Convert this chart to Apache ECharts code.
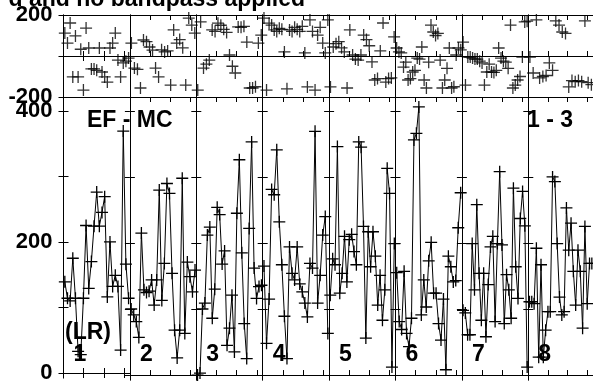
<!DOCTYPE html>
<html>
<head>
<meta charset="utf-8">
<script src="https://cdn.jsdelivr.net/npm/echarts@6/dist/echarts.min.js"></script>
<style>
  html, body { margin: 0; padding: 0; background: #fff; }
  #chart { width: 593px; height: 384px; }
</style>
</head>
<body>
<div id="chart"></div>
<script>
// bottom panel: one run per segment
const fit1 = [139, 114, 110, 175, 114, 33, 28, 114, 225, 129, 170, 224, 276, 224, 245, 269, 116, 200, 132, 149, 132, 35, 369, 166, 114];
const fit2 = [100, 91, 81, 57, 215, 129, 125, 127, 144, 106, 144, 280, 113, 169, 290, 275, 154, 68, 26, 68, 298, 63, 171, 149, 126, 159];
const fit3 = [0, 3, 100, 109, 212, 224, 86, 130, 254, 243, 168, 188, 45, 71, 121, 35, 245, 326, 185, 78, 25, 222, 353, 162, 116, 134, 136];
const fit4 = [165, 48, 115, 281, 273, 341, 232, 167, 89, 25, 194, 154, 144, 194, 138, 126, 109, 88, 169, 162, 369, 109, 151, 212, 240, 63];
const fit5 = [121, 176, 167, 346, 124, 154, 210, 141, 205, 213, 187, 167, 353, 345, 225, 56, 217, 164, 217, 180, 106, 151, 83, 129, 313, 275, 12, 199];
const fit6 = [155, 81, 69, 157, 63, 43, 86, 356, 366, 406, 91, 144, 103, 173, 201, 124, 124, 78, 53, 115, 8, 180, 164, 141, 143, 223, 276];
const fit7 = [98, 94, 61, 61, 199, 129, 258, 154, 83, 154, 58, 137, 194, 210, 81, 199, 308, 197, 78, 152, 129, 86, 283, 164, 116, 237, 278, 226, 12];
const fit8 = [111, 111, 108, 192, 27, 167, 27, 68, 96, 96, 300, 293, 199, 118, 91, 96, 253, 189, 230, 157, 106, 189, 157, 71, 225, 108, 169, 169];

// top panel residuals
const res1 = [112, 63, 161, -102, 98, -102, 33, -166, 136, 39, -63, -63, -70, 39, -78, -102, -127, 39, 63, 112, -20, -102, -34, -25, -10];
const res2 = [63, -59, -65, -156, 78, 70, 44, 29, -59, -102, 30, 20, 25, -142, 127, 63, 80, 40, -142, 185, 151, 112];
const res3 = [-166, 166, -59, -40, -20, 127, 120, 160, 150, 130, 115, 5, -50, -83, 142, 140, 145, 68, -156, -156, -150, 63, 102];
const res4 = [185, -166, 160, 151, 127, 120, 135, 130, 20, -160, 127, 120, 140, 130, 120, 145, 15, -151, 176, 120, -166, 102, 140, 63, 15, 176];
const res5 = [-151, 44, 60, 70, 40, 20, -156, 127, 5, -15, -20, 5, 102, 80, 50, -29, -117, -110, 25, 161, -127, -110, -107, 93];
const res6 = [39, 20, 15, -54, -30, -117, -110, -78, -70, -10, -15, 44, -117, -156, -30, 151, 117, 100, 110, -20, -156, -117, -60, 39, -156, -150, 5, 39, 30];
const res7 = [68, -142, -5, -5, -10, -15, -15, -25, -34, -142, -78, -40, -78, -80, -70, 39, -10, -25, -30, -60, 151, -156, -142, -117, -100, -5, 166, 170];
const res8 = [-5, -83, 176, -107, -100, -95, -34, -70, 171, 151, 117, 110, -151, -120, -125, -120, -125, 171, -130, -140];

const segmentNames = ["1", "2", "3", "4", "5", "6", "7", "8"];
const topTicks = [-200, 0, 200];
const topTickLabels = [-200, 200];
const bottomTicks = [0, 100, 200, 300, 400];
const bottomTickLabels = [0, 200, 400];

const fits = [fit1, fit2, fit3, fit4, fit5, fit6, fit7, fit8];
const residuals = [res1, res2, res3, res4, res5, res6, res7, res8];

const FONT = "Liberation Sans";
const cross = "path://M0,10.7H24V13.3H0ZM10.7,0H13.3V24H10.7Z";
const segLeft = 63.5;
const segW = 66.4;

const grids = [];
const xAxes = [];
const yAxes = [];
const series = [];

const lineAxis = { show: true, lineStyle: { color: "#000", width: 1 } };
const tickIn = { show: true, inside: true, length: 5, lineStyle: { color: "#000", width: 1 } };

function addPanel(seg, top, height, values, yMin, yMax, ticks, labels, isTop) {
  const g = grids.length;
  grids.push({ left: segLeft + seg * segW, top: top, width: segW, height: height });
  // hidden category axis that carries the points
  xAxes.push({ type: "category", gridIndex: g, show: false, boundaryGap: true, data: values.map((v, i) => i) });
  // framed tick axes, bottom and top
  ["bottom", "top"].forEach(pos => {
    xAxes.push({
      type: "value", gridIndex: g, position: pos, min: 0, max: segW / 20.2, interval: 1,
      axisLine: lineAxis, axisTick: tickIn, axisLabel: { show: false }, splitLine: { show: false }
    });
  });
  ["left", "right"].forEach(pos => {
    const first = seg === 0 && pos === "left";
    yAxes.push({
      type: "value", gridIndex: g, position: pos, min: yMin, max: yMax,
      axisLine: lineAxis,
      axisTick: Object.assign({}, tickIn, { customValues: ticks }),
      axisLabel: {
        show: first, customValues: labels, margin: 11, padding: [5, 0, 0, 0],
        color: "#000", fontFamily: FONT, fontWeight: "bold", fontSize: 22
      },
      splitLine: {
        show: isTop && pos === "left", lineStyle: { color: "#000", width: 1 }
      },
      interval: isTop ? 200 : undefined
    });
  });
  if (seg === 0) {
    // outer half of the left frame ticks
    yAxes.push({
      type: "value", gridIndex: g, position: "left", min: yMin, max: yMax,
      axisLine: { show: false },
      axisTick: { show: true, inside: false, length: 4, customValues: ticks, lineStyle: { color: "#000", width: 1 } },
      axisLabel: { show: false }, splitLine: { show: false }
    });
  }
  series.push({
    type: isTop ? "scatter" : "line",
    xAxisIndex: g * 3, yAxisIndex: yAxes.findIndex(a => a.gridIndex === g),
    data: values,
    symbol: cross, symbolSize: 12, showAllSymbol: true, clip: false,
    itemStyle: { color: "#000" },
    lineStyle: { color: "#000", width: 1 },
    animation: false, silent: true
  });
}

for (let s = 0; s < 8; s++) {
  addPanel(s, 15, 82, residuals[s], -200, 200, topTicks, topTickLabels, true);
  addPanel(s, 97, 283, fits[s], -7.5, 421, bottomTicks, bottomTickLabels, false);
}

function label(text, x, y, align, size) {
  return {
    type: "text", z: 100,
    style: {
      text: text, x: x, y: y, fill: "#000",
      font: "bold " + (size || 23) + "px '" + FONT + "'",
      align: align || "left", textAlign: align || "left",
      verticalAlign: "middle", textVerticalAlign: "middle"
    }
  };
}

const graphics = [
  label("d and no bandpass applied", 305, 0, "right", 23),
  label("EF - MC", 87, 121),
  label("1 - 3", 527, 121),
  label("(LR)", 65, 333)
];
segmentNames.forEach((name, i) => {
  graphics.push(label(name, segLeft + i * segW + 10, 355));
});

const chart = echarts.init(document.getElementById("chart"));
chart.setOption({
  animation: false,
  grid: grids,
  xAxis: xAxes,
  yAxis: yAxes,
  series: series,
  graphic: graphics
});
</script>
</body>
</html>
